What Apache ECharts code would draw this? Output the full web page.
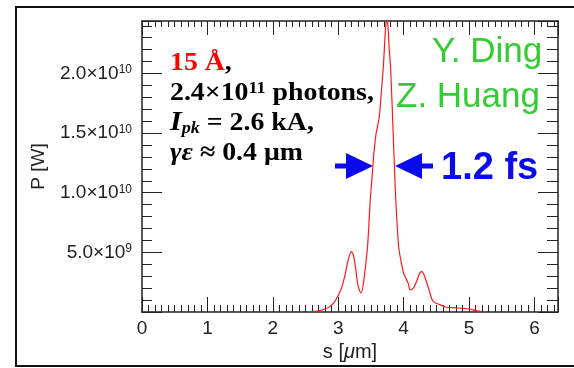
<!DOCTYPE html>
<html>
<head>
<meta charset="utf-8">
<script src="https://cdn.jsdelivr.net/npm/echarts@6/dist/echarts.min.js"></script>
<style>
    html, body { margin: 0; padding: 0; background: #fff; }
    #chart { width: 574px; height: 368px; }
</style>
</head>
<body>
<div id="chart"></div>
<script>
// s [um] positions and power P (units of 1e9 W)
const sPos = [2.52, 2.6, 2.7, 2.8, 2.87, 2.95, 3.0, 3.05, 3.1, 3.15, 3.2, 3.23, 3.27, 3.3, 3.35,
    3.38, 3.42, 3.45, 3.49, 3.52, 3.55, 3.58, 3.6, 3.63, 3.65, 3.69, 3.72, 3.74, 3.76, 3.78,
    3.8, 3.84, 3.86, 3.88, 3.91, 3.93, 3.97, 4.0, 4.07, 4.1, 4.15, 4.2, 4.25, 4.28, 4.32,
    4.38, 4.45, 4.56, 4.65, 4.8, 5.0, 5.1, 5.19];
const power = [0.0, 0.05, 0.1, 0.25, 0.45, 0.9, 1.4, 2.0, 3.0, 4.3, 5.07, 4.8, 3.5, 2.3, 1.6,
    2.2, 4.0, 5.6, 9.4, 11.5, 13.6, 15.0, 15.5, 16.5, 17.8, 20.6, 23.5, 24.6, 24.0, 22.0,
    20.6, 15.0, 12.0, 9.4, 6.5, 5.2, 4.0, 3.25, 2.4, 1.85, 2.0, 2.6, 3.3, 3.39, 3.0,
    2.0, 0.9, 0.6, 0.4, 0.35, 0.25, 0.12, 0.05];

const yTickLabels = { 5: ['5.0', '9'], 10: ['1.0', '10'], 15: ['1.5', '10'], 20: ['2.0', '10'] };
const xTicks = [0, 1, 2, 3, 4, 5, 6];

const chart = echarts.init(document.getElementById('chart'));

const lineStyle = { color: '#222', width: 1.5 };
const tick = (len) => ({ show: true, inside: true, length: len, lineStyle: { color: '#222', width: 1 } });
const minor = (n, len) => ({ show: true, splitNumber: n, length: len, lineStyle: { color: '#222', width: 1 } });
const serifBold = { fontFamily: 'Liberation Serif', fontWeight: 'bold', fontSize: 26, fill: '#000' };
const plotRect = { left: 142, top: 21, right: 16, bottom: 56 };

chart.setOption({
    animation: false,
    backgroundColor: '#fff',
    // grid 1 is a twin of grid 0 that only carries the mirrored top/right tick axes
    grid: [plotRect, plotRect],
    xAxis: [{
        gridIndex: 0, type: 'value', min: 0, max: 6.36, interval: 1, position: 'bottom',
        axisLine: { lineStyle }, splitLine: { show: false },
        axisTick: tick(15), minorTick: minor(10, 7),
        axisLabel: {
            margin: 7, fontFamily: 'Liberation Sans', fontSize: 19, color: '#222',
            formatter: v => xTicks.includes(v) ? String(v) : ''
        },
        name: '{n|s [}{i|\u03bc}{n|m]}', nameLocation: 'middle', nameGap: 27,
        nameTextStyle: {
            rich: {
                n: { fontFamily: 'Liberation Sans', fontSize: 20, color: '#222' },
                i: { fontFamily: 'Liberation Sans', fontStyle: 'italic', fontSize: 20, color: '#222' }
            }
        }
    }, {
        // offset copy of the s scale (same spacing) so it never snaps onto zero
        gridIndex: 1, type: 'value', min: 10, max: 16.36, interval: 1, position: 'top',
        axisLine: { lineStyle }, splitLine: { show: false },
        axisTick: tick(14), minorTick: minor(10, 6), axisLabel: { show: false }
    }],
    yAxis: [{
        gridIndex: 0, type: 'value', min: 0, max: 24.4, interval: 5, position: 'left',
        axisLine: { lineStyle }, splitLine: { show: false },
        axisTick: tick(20), minorTick: minor(5, 10),
        axisLabel: {
            margin: 10, color: '#222', fontFamily: 'Liberation Sans',
            formatter: v => yTickLabels[v] ? '{m|' + yTickLabels[v][0] + '\u00d710}{s|' + yTickLabels[v][1] + '}' : '',
            rich: {
                m: { fontSize: 19, color: '#222' },
                s: { fontSize: 12, color: '#222', verticalAlign: 'top' }
            }
        },
        name: 'P [W]', nameLocation: 'middle', nameGap: 94,
        nameTextStyle: { fontFamily: 'Liberation Sans', fontSize: 19, color: '#222' }
    }, {
        gridIndex: 1, type: 'value', min: 100, max: 124.4, interval: 5, position: 'right',
        axisLine: { lineStyle }, splitLine: { show: false },
        axisTick: tick(20), minorTick: minor(5, 11), axisLabel: { show: false }
    }],
    series: [{
        type: 'line', xAxisIndex: 0, yAxisIndex: 0,
        data: sPos.map((s, i) => [s, power[i]]),
        showSymbol: false, smooth: 0.3, clip: true,
        lineStyle: { color: '#ff1a1a', width: 1.2 }
    }],
    graphic: [
        // outer frame
        { type: 'rect', shape: { x: 16, y: 7, width: 560, height: 359 }, style: { fill: 'none', stroke: '#111', lineWidth: 2 }, silent: true },
        // annotation text (slightly stretched horizontally like the original)
        { type: 'group', left: 170, top: 50, scaleX: 1.07, children: [{ type: 'text', style: {
            text: '{r|15 \u00c5}{k|,}', rich: { r: { ...serifBold, fill: '#ff0000' }, k: serifBold } } }] },
        { type: 'group', left: 170, top: 80, scaleX: 1.07, children: [{ type: 'text', style: {
            text: '{k|2.4\u00d710}{s|11}{k| photons,}', rich: { k: serifBold, s: { ...serifBold, fontSize: 17, verticalAlign: 'top' } } } }] },
        { type: 'group', left: 170, top: 109, scaleX: 1.07, children: [{ type: 'text', style: {
            text: '{i|I}{b|pk}{k| = 2.6 kA,}',
            rich: {
                i: { ...serifBold, fontStyle: 'italic', fontSize: 28 },
                b: { ...serifBold, fontStyle: 'italic', fontSize: 17, verticalAlign: 'bottom' },
                k: serifBold
            } } }] },
        { type: 'group', left: 170, top: 140, scaleX: 1.07, children: [{ type: 'text', style: {
            text: '{i|\u03b3\u03b5}{k| \u2248 0.4 \u03bcm}', rich: { i: { ...serifBold, fontStyle: 'italic' }, k: serifBold } } }] },
        { type: 'text', left: 432, top: 35, style: { text: 'Y. Ding', font: '35px "Liberation Sans"', fill: '#33cc33' } },
        { type: 'text', left: 396, top: 80, style: { text: 'Z. Huang', font: '35px "Liberation Sans"', fill: '#33cc33' } },
        { type: 'text', left: 441, top: 150, style: { text: '1.2 fs', font: 'bold 38px "Liberation Sans"', fill: '#0a0af0' } },
        // FWHM arrows
        { type: 'rect', shape: { x: 335, y: 163.5, width: 14, height: 5 }, style: { fill: '#0a0af0' } },
        { type: 'polygon', shape: { points: [[346, 153], [373, 166], [346, 179]] }, style: { fill: '#0a0af0' } },
        { type: 'rect', shape: { x: 419, y: 163.5, width: 14, height: 5 }, style: { fill: '#0a0af0' } },
        { type: 'polygon', shape: { points: [[422, 153], [395, 166], [422, 179]] }, style: { fill: '#0a0af0' } }
    ]
});
</script>
</body>
</html>
